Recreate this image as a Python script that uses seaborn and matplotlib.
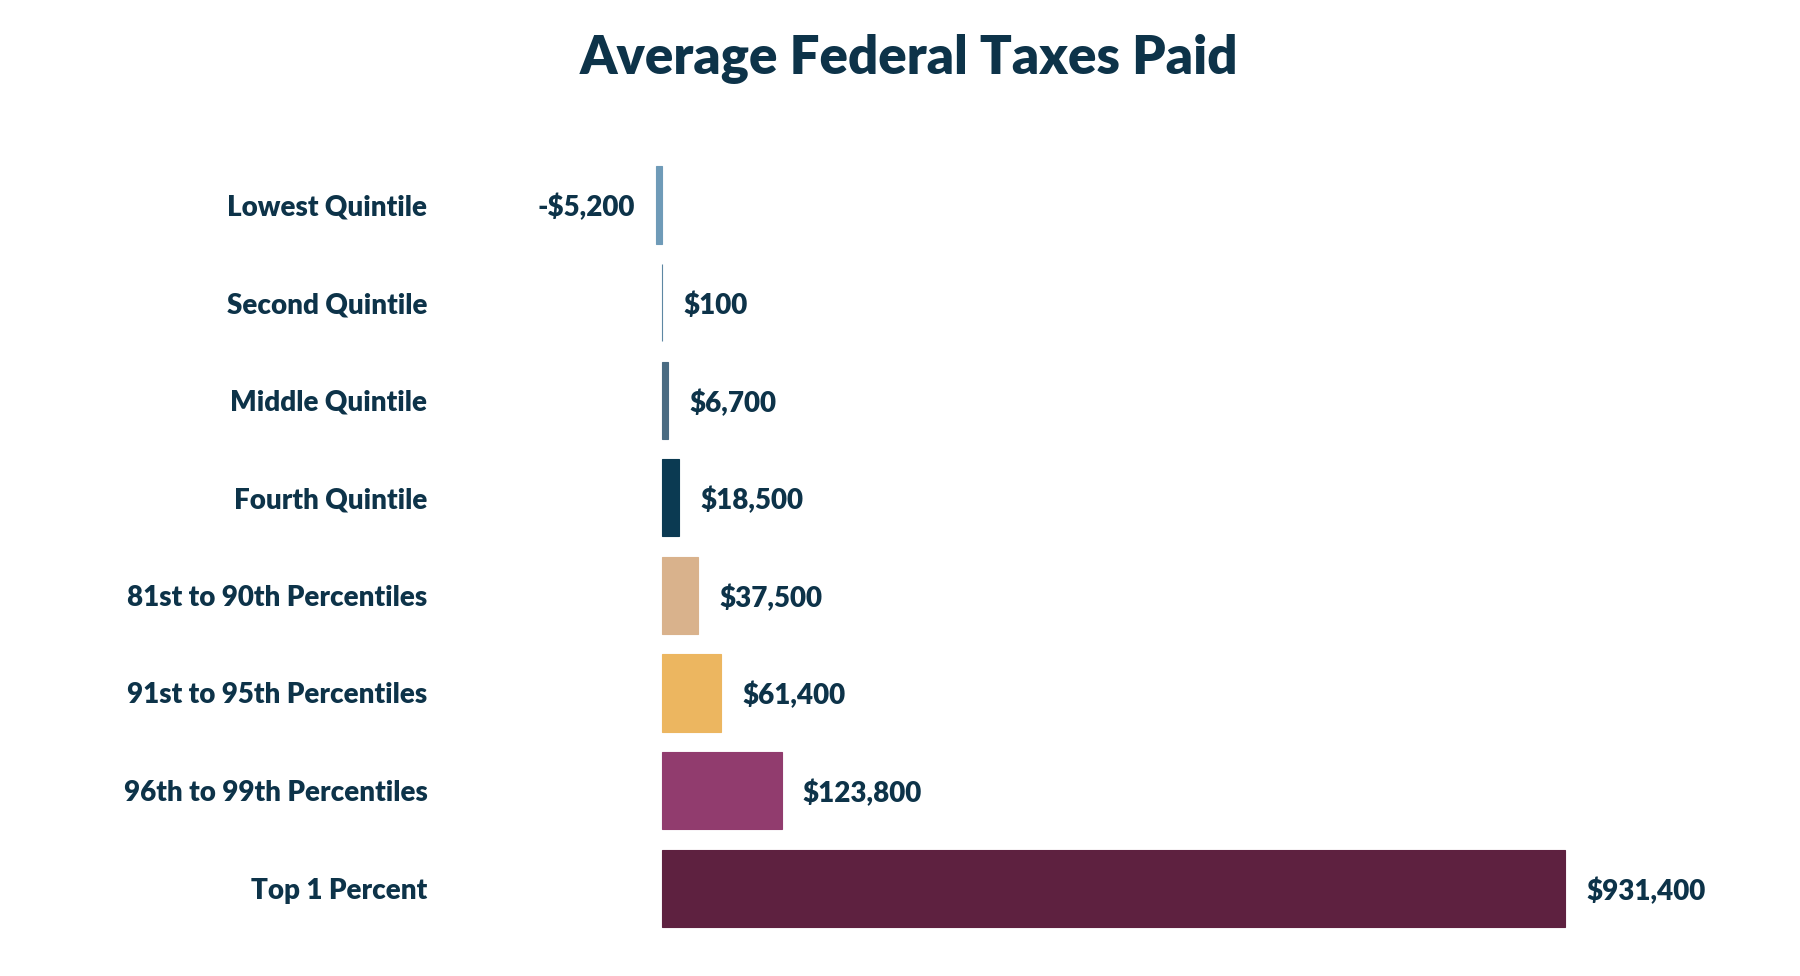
import matplotlib
matplotlib.use("Agg")
import matplotlib.pyplot as plt
import seaborn as sns
import pandas as pd

categories = ["Lowest Quintile", "Second Quintile", "Middle Quintile", "Fourth Quintile",
              "81st to 90th Percentiles", "91st to 95th Percentiles",
              "96th to 99th Percentiles", "Top 1 Percent"]
values = [-5200, 100, 6700, 18500, 37500, 61400, 123800, 931400]
labels = ["-$5,200", "$100", "$6,700", "$18,500", "$37,500", "$61,400", "$123,800", "$931,400"]
colors = ["#6f9bb8", "#5d87a3", "#4a6b82", "#0b3a52", "#d9b28c", "#ecb660", "#913c6e", "#5e2140"]

sns.set_theme(style="white")
plt.rcParams["font.family"] = ["Lato", "DejaVu Sans"]
txt = "#0d3349"

df = pd.DataFrame({"cat": categories, "val": values})
fig = plt.figure(figsize=(18, 9.76), dpi=100)
ax = fig.add_axes([0.256, 0.04, 0.731, 0.80])
sns.barplot(data=df, y="cat", x="val", hue="cat", palette=colors, legend=False,
            width=0.79, ax=ax, saturation=1)
for p, c in zip(ax.patches, colors):
    p.set_edgecolor(c)
    p.set_linewidth(0.8)
ax.set_xlim(-207000, 1150000)
ax.set_ylim(7.5, -0.5)
for i, (v, l) in enumerate(zip(values, labels)):
    if v < 0:
        ax.text(v - 22000, i + 0.03, l, ha="right", va="center", fontsize=20, fontweight="heavy", color=txt)
    else:
        ax.text(v + 22000, i + 0.03, l, ha="left", va="center", fontsize=20, fontweight="heavy", color=txt)
ax.set_xlabel("")
ax.set_ylabel("")
ax.set_xticks([])
ax.tick_params(axis="y", length=0, pad=24)
for t in ax.get_yticklabels():
    t.set_fontsize(20); t.set_fontweight("heavy"); t.set_color(txt)
for s in ax.spines.values():
    s.set_visible(False)
fig.suptitle("Average Federal Taxes Paid", x=0.505, y=0.965, fontsize=38, fontweight="heavy", color=txt)
fig.savefig("out.png", dpi=100, facecolor="white")
